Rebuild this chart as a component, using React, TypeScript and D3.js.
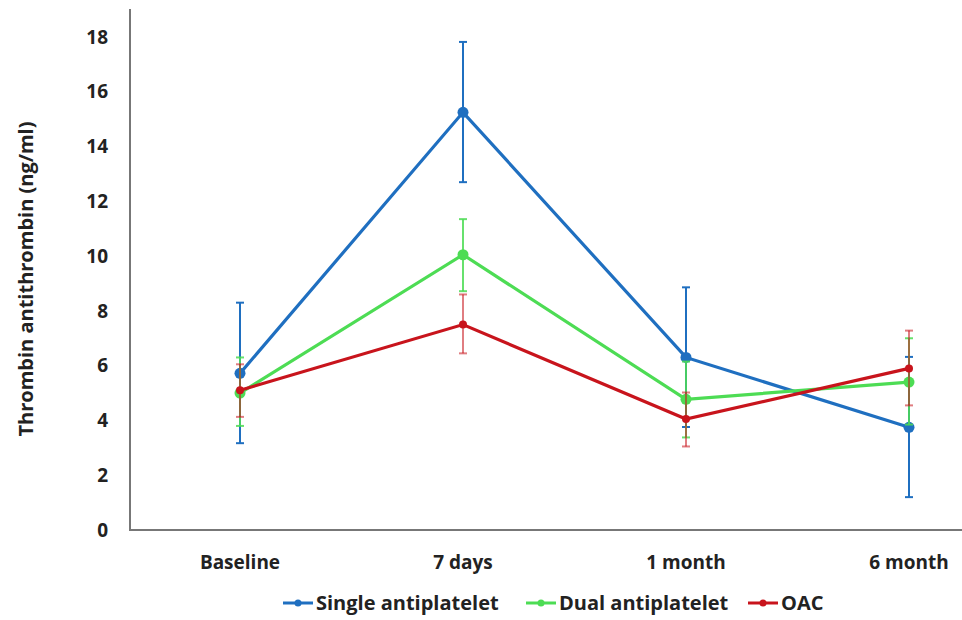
import React, { useRef, useEffect } from 'react';
import * as d3 from 'd3';

const categories = ['Baseline', '7 days', '1 month', '6 month'];
const yTicks = [0, 2, 4, 6, 8, 10, 12, 14, 16, 18];

const singleMean = [5.72, 15.25, 6.3, 3.75];
const singleUpper = [8.3, 17.82, 8.86, 6.32];
const singleLower = [3.17, 12.7, 3.76, 1.2];

const dualMean = [5.0, 10.05, 4.77, 5.4];
const dualUpper = [6.3, 11.35, 6.15, 7.0];
const dualLower = [3.8, 8.72, 3.38, 3.85];

const oacMean = [5.1, 7.5, 4.05, 5.9];
const oacUpper = [6.05, 8.6, 5.02, 7.28];
const oacLower = [4.13, 6.45, 3.05, 4.55];

const seriesNames = ['Single antiplatelet', 'Dual antiplatelet', 'OAC'];
const seriesColors = ['#1f6fc0', '#4ddc54', '#c8141c'];

const App: React.FC = () => {
  const svgRef = useRef<SVGSVGElement | null>(null);

  useEffect(() => {
    const svg = d3.select(svgRef.current);
    svg.selectAll('*').remove();

    const width = 962;
    const font = "'Open Sans', 'DejaVu Sans', sans-serif";

    const x = d3.scalePoint<string>().domain(categories).range([240, 909]);
    const y = d3.scaleLinear().domain([0, 18]).range([530, 37]);

    // axes lines
    svg.append('line').attr('x1', 130).attr('x2', 130).attr('y1', 9).attr('y2', 530)
      .attr('stroke', '#777').attr('stroke-width', 2);
    svg.append('line').attr('x1', 129).attr('x2', width).attr('y1', 530).attr('y2', 530)
      .attr('stroke', '#777').attr('stroke-width', 2);

    // y tick labels
    svg.append('g').selectAll('text').data(yTicks).enter().append('text')
      .attr('x', 108).attr('y', (d) => y(d)).attr('dy', '0.35em')
      .attr('text-anchor', 'end').attr('font-family', font).attr('font-weight', 700)
      .attr('font-size', 19).attr('fill', '#222').text((d) => d);

    // x tick labels
    svg.append('g').selectAll('text').data(categories).enter().append('text')
      .attr('x', (d) => x(d)!).attr('y', 569)
      .attr('text-anchor', 'middle').attr('font-family', font).attr('font-weight', 700)
      .attr('font-size', 19).attr('fill', '#222').text((d) => d);

    // y axis title
    svg.append('text')
      .attr('transform', `translate(33, 279) rotate(-90)`)
      .attr('text-anchor', 'middle').attr('font-family', font).attr('font-weight', 700)
      .attr('font-size', 20).attr('fill', '#222').text('Thrombin antithrombin (ng/ml)');

    const series = [
      { mean: singleMean, upper: singleUpper, lower: singleLower, color: seriesColors[0], opacity: 1, r: 5.5 },
      { mean: dualMean, upper: dualUpper, lower: dualLower, color: seriesColors[1], opacity: 0.85, r: 5.5 },
      { mean: oacMean, upper: oacUpper, lower: oacLower, color: seriesColors[2], opacity: 0.55, r: 4 },
    ];

    const line = d3.line<number>().x((_, i) => x(categories[i])!).y((d) => y(d));

    series.forEach((s) => {
      const g = svg.append('g');
      // error bars
      categories.forEach((c, i) => {
        const cx = x(c)!;
        g.append('line').attr('x1', cx).attr('x2', cx).attr('y1', y(s.upper[i])).attr('y2', y(s.lower[i]))
          .attr('stroke', s.color).attr('stroke-width', 2).attr('opacity', s.opacity);
        [s.upper[i], s.lower[i]].forEach((v) => {
          g.append('line').attr('x1', cx - 4).attr('x2', cx + 4).attr('y1', y(v)).attr('y2', y(v))
            .attr('stroke', s.color).attr('stroke-width', 2).attr('opacity', s.opacity);
        });
      });
      g.append('path').datum(s.mean).attr('d', line).attr('fill', 'none')
        .attr('stroke', s.color).attr('stroke-width', 3.2);
      g.selectAll('circle').data(s.mean).enter().append('circle')
        .attr('cx', (_, i) => x(categories[i])!).attr('cy', (d) => y(d))
        .attr('r', s.r).attr('fill', s.color);
    });

    // legend
    const legendX = [283, 526, 748];
    const legend = svg.append('g');
    seriesNames.forEach((name, i) => {
      const lx = legendX[i];
      legend.append('line').attr('x1', lx).attr('x2', lx + 30).attr('y1', 603).attr('y2', 603)
        .attr('stroke', seriesColors[i]).attr('stroke-width', 3);
      legend.append('circle').attr('cx', lx + 15).attr('cy', 603).attr('r', 3.5).attr('fill', seriesColors[i]);
      legend.append('text').attr('x', lx + 33).attr('y', 603).attr('dy', '0.35em')
        .attr('font-family', font).attr('font-weight', 700).attr('font-size', 20)
        .attr('fill', '#222').text(name);
    });
  }, []);

  return (
    <svg
      ref={svgRef}
      width={962}
      height={620}
      style={{ position: 'absolute', left: 0, top: 0, background: '#fff' }}
    />
  );
};

export default App;
